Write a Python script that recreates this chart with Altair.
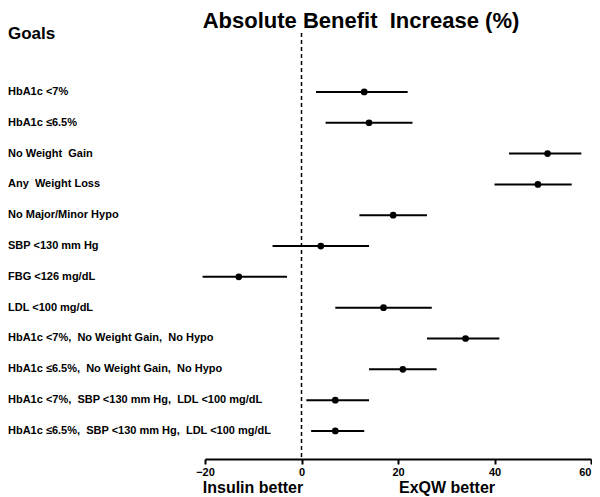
import altair as alt
import pandas as pd

NB = " \u00a0"  # visible double space

goals = [
    "HbA1c <7%",
    "HbA1c \u22646.5%",
    "No Weight" + NB + "Gain",
    "Any" + NB + "Weight Loss",
    "No Major/Minor Hypo",
    "SBP <130 mm Hg",
    "FBG <126 mg/dL",
    "LDL <100 mg/dL",
    "HbA1c <7%," + NB + "No Weight Gain," + NB + "No Hypo",
    "HbA1c \u22646.5%," + NB + "No Weight Gain," + NB + "No Hypo",
    "HbA1c <7%," + NB + "SBP <130 mm Hg," + NB + "LDL <100 mg/dL",
    "HbA1c \u22646.5%," + NB + "SBP <130 mm Hg," + NB + "LDL <100 mg/dL",
]
estimate = [13, 14, 51, 49, 19, 4, -13, 17, 34, 21, 7, 7]
lower = [3, 5, 43, 40, 12, -6, -20.5, 7, 26, 14, 1, 2]
upper = [22, 23, 58, 56, 26, 14, -3, 27, 41, 28, 14, 13]
x_ticks = [-20, 0, 20, 40, 60]

df = pd.DataFrame({
    "goal": goals,
    "idx": list(range(len(goals))),
    "est": estimate,
    "lo": lower,
    "hi": upper,
})

FONT = "Arial, Liberation Sans, sans-serif"
W, H = 386, 421

xaxis = alt.Axis(
    values=x_ticks, title=None, grid=False, domainColor="black",
    domainWidth=2, tickColor="black", tickWidth=2, tickSize=5,
    labelFont=FONT, labelFontSize=11, labelFontWeight="bold",
    labelColor="black", labelPadding=2, labelFlush=False, format="d",
    labelAlign={"expr": "datum.value == 60 ? 'right' : 'center'"})

xs = alt.Scale(domain=[-20, 60], nice=False, zero=False)
ys = alt.Scale(domain=[-1.75, 11.91], reverse=True, nice=False, zero=False)

base = alt.Chart(df)

bars = base.mark_rule(color="black", strokeWidth=2).encode(
    x=alt.X("lo:Q", scale=xs, axis=xaxis),
    x2="hi:Q",
    y=alt.Y("idx:Q", scale=ys, axis=None),
)

dots = base.mark_circle(color="black", opacity=1, size=45).encode(
    x=alt.X("est:Q", scale=xs, axis=xaxis),
    y=alt.Y("idx:Q", scale=ys, axis=None),
)

labels = base.mark_text(align="left", baseline="middle", font=FONT,
                        fontSize=11, fontWeight="bold", color="black").encode(
    x=alt.value(-197),
    y=alt.Y("idx:Q", scale=ys, axis=None),
    text="goal:N",
)

zero_line = alt.Chart(pd.DataFrame({"z": [0]})).mark_rule(
    color="black", strokeWidth=1.5, strokeDash=[4, 3]).encode(
    x=alt.X("z:Q", scale=xs, axis=xaxis),
    y=alt.value(-5),
    y2=alt.value(H),
)

notes = pd.DataFrame({
    "t": ["Absolute Benefit" + NB + "Increase (%)", "Goals", "Insulin better", "ExQW better"],
    "px": [156, -197, 48, 242],
    "py": [-10, 1, 455, 455],
    "size": [22, 17, 16, 16],
    "al": ["center", "left", "center", "center"],
})

def note(i):
    r = notes.iloc[i]
    return alt.Chart(notes.iloc[[i]]).mark_text(
        align=r["al"], baseline="alphabetic", font=FONT,
        fontSize=int(r["size"]), fontWeight="bold", color="black").encode(
        x=alt.value(int(r["px"])), y=alt.value(int(r["py"])), text="t:N")

chart = alt.layer(
    zero_line, bars, dots, labels, note(0), note(1), note(2), note(3)
).properties(
    width=W, height=H,
    background="white",
    autosize=alt.AutoSizeParams(type="none"),
    padding={"left": 197, "top": 30, "right": 1, "bottom": 38},
).configure_view(stroke=None).configure_axis(grid=False)

chart.save("out.html", embed_options={"renderer": "svg", "actions": False})
